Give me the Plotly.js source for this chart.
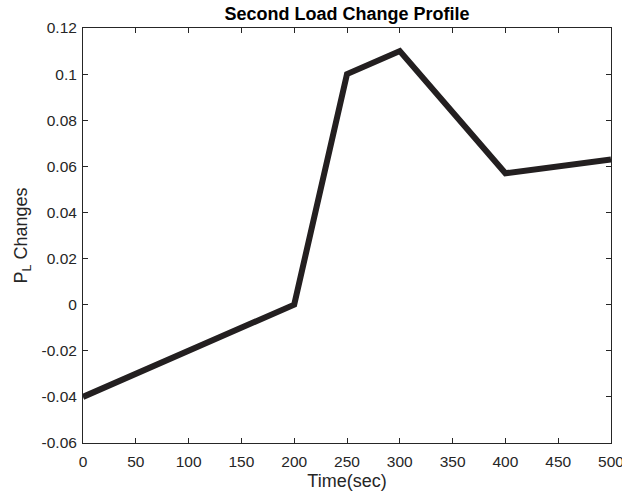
<!DOCTYPE html>
<html>
<head>
<meta charset="utf-8">
<script src="https://cdn.plot.ly/plotly-3.0.1.min.js"></script>
<style>html,body{margin:0;padding:0;background:#fff;}#chart{width:622px;height:494px;}</style>
</head>
<body>
<div id="chart"></div>
<script>
var timeSec = [0, 200, 250, 300, 400, 500];
var loadChange = [-0.04, 0, 0.1, 0.11, 0.057, 0.063];
var xTicks = [0, 50, 100, 150, 200, 250, 300, 350, 400, 450, 500];
var yTicks = [-0.06, -0.04, -0.02, 0, 0.02, 0.04, 0.06, 0.08, 0.1, 0.12];
var yTickText = ['-0.06', '-0.04', '-0.02', '0', '0.02', '0.04', '0.06', '0.08', '0.1', '0.12'];

var fontFam = 'Liberation Sans, Arial, sans-serif';
var axisCol = '#262626';

var trace = {
  x: timeSec, y: loadChange, type: 'scatter', mode: 'lines',
  line: {color: '#231f20', width: 6},
  hoverinfo: 'none', cliponaxis: false
};

var common = {
  showline: true, mirror: 'ticks', linecolor: axisCol, linewidth: 1,
  ticks: 'inside', ticklen: 5, tickwidth: 1, tickcolor: axisCol,
  showgrid: false, zeroline: false, ticklabeloverflow: 'allow',
  tickfont: {family: fontFam, size: 15.5, color: axisCol}
};

var layout = {
  width: 622, height: 494,
  margin: {l: 83, r: 11, t: 28, b: 51},
  paper_bgcolor: '#fff', plot_bgcolor: '#fff',
  showlegend: false,
  title: {text: '<b>Second Load Change Profile</b>', font: {family: fontFam, size: 18, color: '#000'}, x: 0.5, xref: 'paper', xanchor: 'center', y: 0.986, yanchor: 'top'},
  xaxis: Object.assign({}, common, {
    range: [0, 500], tickvals: xTicks, ticktext: xTicks.map(String), ticklabelstandoff: 4,
    title: {text: 'Time(sec)', font: {family: fontFam, size: 18, color: axisCol}, standoff: 5}
  }),
  yaxis: Object.assign({}, common, {
    range: [-0.06, 0.12], tickvals: yTicks, ticktext: yTickText, ticklabelstandoff: 2,
    title: {text: 'P<sub>L</sub> Changes', font: {family: fontFam, size: 18, color: axisCol}, standoff: 9}
  })
};

Plotly.newPlot('chart', [trace], layout, {displayModeBar: false, staticPlot: true});
</script>
</body>
</html>
